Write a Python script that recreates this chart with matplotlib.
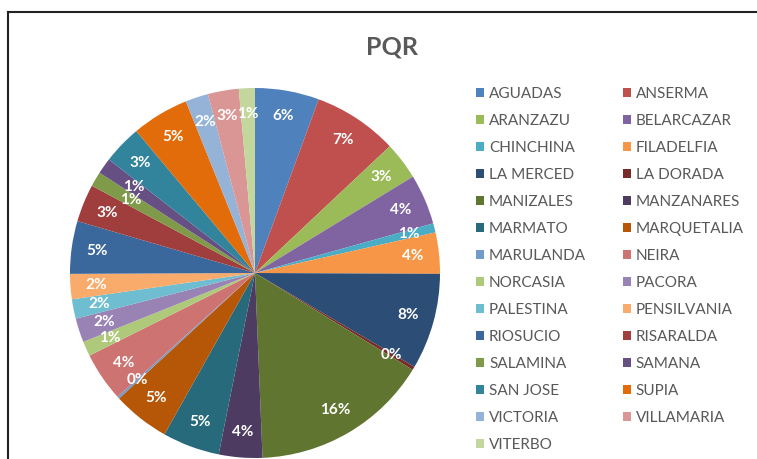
import matplotlib.pyplot as plt
from matplotlib.lines import Line2D
from matplotlib.patches import Patch

# municipios (orden de la leyenda / de la torta)
municipios = ['AGUADAS', 'ANSERMA', 'ARANZAZU', 'BELARCAZAR', 'CHINCHINA', 'FILADELFIA',
              'LA MERCED', 'LA DORADA', 'MANIZALES', 'MANZANARES', 'MARMATO', 'MARQUETALIA',
              'MARULANDA', 'NEIRA', 'NORCASIA', 'PACORA', 'PALESTINA', 'PENSILVANIA',
              'RIOSUCIO', 'RISARALDA', 'SALAMINA', 'SAMANA', 'SAN JOSE', 'SUPIA',
              'VICTORIA', 'VILLAMARIA', 'VITERBO']
pqr = [56, 74, 33, 44, 8, 36,
       84, 3, 156, 38, 50, 50,
       2, 43, 13, 21, 17, 22,
       46, 33, 13, 14, 34, 50,
       20, 27, 14]

# office 2010 palette
colores = ['#4F81BD', '#C0504D', '#9BBB59', '#8064A2', '#4BACC6', '#F79646',
           '#2C4D75', '#772C2A', '#5F7530', '#4D3B62', '#276A7C', '#B65708',
           '#729ACA', '#CD7371', '#AFC97A', '#9983B5', '#6FBDD1', '#F9AB6B',
           '#3A679C', '#9F3E3C', '#7F9A48', '#664F83', '#31849B', '#E36C0A',
           '#95B3D7', '#D99694', '#C3D69B']

plt.rcParams['font.family'] = ['Lato', 'DejaVu Sans']

W, H = 757, 459
fig = plt.figure(figsize=(W / 100, H / 100), dpi=100)

# pie centred at (255, 273) px, radius 185 px
cx, cy, r = 255, 273, 185
ax = fig.add_axes([(cx - r) / W, (H - cy - r) / H, 2 * r / W, 2 * r / H])
wedges, _, autotexts = ax.pie(pqr, colors=colores, startangle=90, counterclock=False,
                              autopct='%1.0f%%', pctdistance=0.86,
                              wedgeprops=dict(linewidth=0),
                              textprops=dict(color='white', fontsize=11, fontweight='bold'))
ax.set_xlim(-1, 1)
ax.set_ylim(-1, 1)
ax.set_aspect('equal')
ax.axis('off')

# small slices: labels pulled in a bit, like excel's best fit
for nombre, dist in [('SALAMINA', 0.78), ('SAMANA', 0.80)]:
    t = autotexts[municipios.index(nombre)]
    x, y = t.get_position()
    t.set_position((x * dist / 0.86, y * dist / 0.86))

fig.text(392 / W, 1 - 47 / H, 'PQR', ha='center', va='center',
         fontsize=18, fontweight='bold', color='#595959')

# legend filled row by row (matplotlib fills by column)
handles = [Patch(facecolor=c, edgecolor='none') for c in colores]
orden = list(range(0, len(municipios), 2)) + list(range(1, len(municipios), 2))
leg = fig.legend([handles[i] for i in orden], [municipios[i] for i in orden],
                 ncol=2, loc='upper left', bbox_to_anchor=(476 / W, 1 - 87 / H),
                 frameon=False, fontsize=11, handlelength=0.55, handleheight=0.55,
                 handletextpad=0.3, labelspacing=0.85, columnspacing=2.4,
                 borderpad=0, borderaxespad=0)
for t in leg.get_texts():
    t.set_color('#595959')

# chart border
fig.add_artist(Line2D([8 / W, 8 / W], [0, 1 - 12 / H], color='#222222', lw=1.5))
fig.add_artist(Line2D([8 / W, 1], [1 - 12 / H, 1 - 12 / H], color='#222222', lw=1.5))

fig.savefig('out.png', dpi=100)
